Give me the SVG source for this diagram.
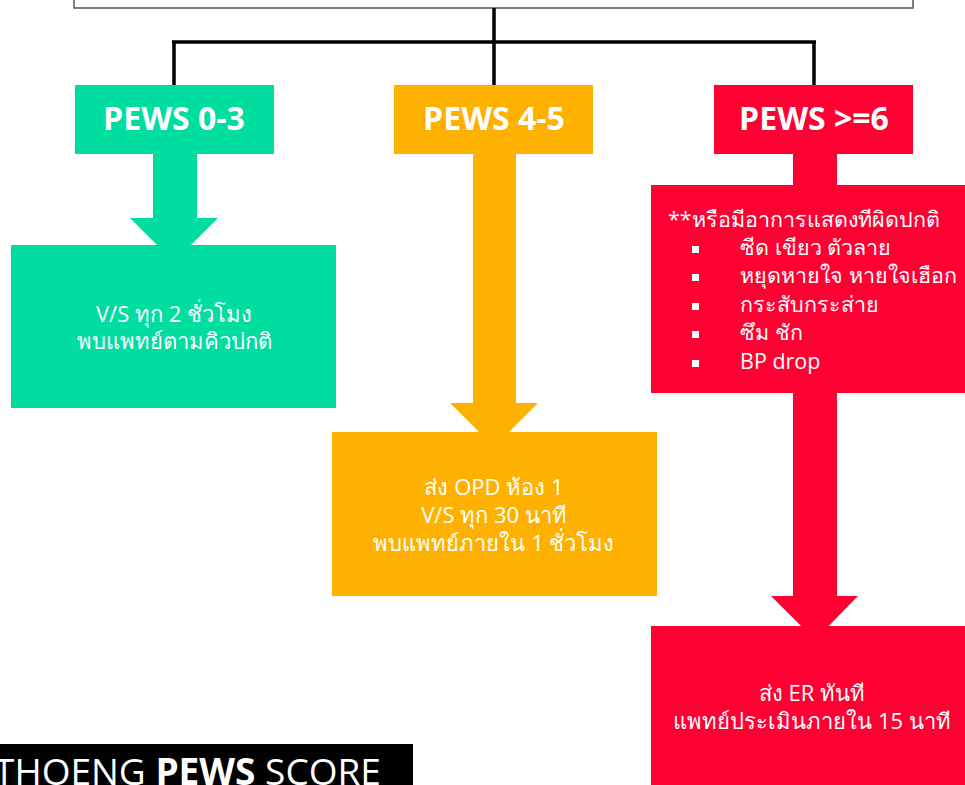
<svg xmlns="http://www.w3.org/2000/svg" width="965" height="785" viewBox="0 0 965 785">
<style>
  .t { font-family: "Open Sans", "Noto Sans", "DejaVu Sans", sans-serif; fill: #ffffff; text-anchor: middle; }
  .hdr { font-size: 32px; font-weight: bold; }
  .body { font-size: 22px; }
  .lst { font-size: 21.5px; text-anchor: start; }
  .conn { stroke: #000000; stroke-width: 3.5; fill: none; }
  .g { fill: #00DDA1; }
  .o { fill: #FFB100; }
  .r { fill: #FF0033; }
</style>
<rect x="0" y="0" width="965" height="785" fill="#ffffff"/>

<g id="top-box">
  <rect x="74" y="-40" width="839" height="48" fill="#ffffff" stroke="#555555" stroke-width="1.5"/>
</g>

<g id="connectors">
  <line class="conn" x1="494" y1="8" x2="494" y2="86"/>
  <line class="conn" x1="172" y1="42" x2="816" y2="42" stroke-width="4"/>
  <line class="conn" x1="174" y1="41" x2="174" y2="86"/>
  <line class="conn" x1="814" y1="41" x2="814" y2="86"/>
  <polygon class="g" points="153,153 197,153 197,218 218,218 174,262 130,218 153,218"/>
  <polygon class="o" points="473,153 516,153 516,403 538,403 494,447 450,403 473,403"/>
  <rect class="r" x="793" y="153" width="44" height="34"/>
  <polygon class="r" points="793,392 837,392 837,596 858,596 815,640 771,596 793,596"/>
</g>

<g id="pews-0-3">
  <rect class="g" x="75" y="85" width="199" height="69"/>
  <text class="t hdr" x="174" y="130">PEWS 0-3</text>
</g>
<g id="pews-4-5">
  <rect class="o" x="394" y="85" width="199" height="69"/>
  <text class="t hdr" x="494" y="130">PEWS 4-5</text>
</g>
<g id="pews-6">
  <rect class="r" x="714" y="85" width="199" height="69"/>
  <text class="t hdr" x="814" y="130">PEWS &gt;=6</text>
</g>

<g id="green-action">
  <rect class="g" x="11" y="245" width="325" height="163"/>
  <text class="t body" x="174" y="322">V/S ทุก 2 ชั่วโมง</text>
  <text class="t body" x="174" y="349">พบแพทย์ตามคิวปกติ</text>
</g>

<g id="orange-action">
  <rect class="o" x="332" y="432" width="325" height="164"/>
  <text class="t body" x="494" y="495">ส่ง OPD ห้อง 1</text>
  <text class="t body" x="494" y="523">V/S ทุก 30 นาที</text>
  <text class="t body" x="494" y="551">พบแพทย์ภายใน 1 ชั่วโมง</text>
</g>

<g id="red-signs">
  <rect class="r" x="651" y="185" width="330" height="208"/>
  <text class="t lst" x="668" y="227">**หรือมีอาการแสดงทีผิดปกติ</text>
  <rect x="692" y="246" width="7" height="7" fill="#ffffff"/>
  <rect x="692" y="274" width="7" height="7" fill="#ffffff"/>
  <rect x="692" y="303" width="7" height="7" fill="#ffffff"/>
  <rect x="692" y="331" width="7" height="7" fill="#ffffff"/>
  <rect x="692" y="360" width="7" height="7" fill="#ffffff"/>
  <text class="t lst" x="740" y="255">ซีด เขียว ตัวลาย</text>
  <text class="t lst" x="740" y="283">หยุดหายใจ หายใจเฮือก</text>
  <text class="t lst" x="740" y="312">กระสับกระส่าย</text>
  <text class="t lst" x="740" y="340">ซึม ชัก</text>
  <text class="t lst" x="740" y="369">BP drop</text>
</g>

<g id="red-action">
  <rect class="r" x="651" y="626" width="330" height="170"/>
  <text class="t body" x="812" y="701">ส่ง ER ทันที</text>
  <text class="t body" x="812" y="729">แพทย์ประเมินภายใน 15 นาที</text>
</g>

<g id="title-bar">
  <rect x="-5" y="744" width="418" height="50" fill="#000000"/>
  <text x="-6" y="785" font-family="'Open Sans', 'Noto Sans', sans-serif" font-size="37" fill="#ffffff">THOENG <tspan font-weight="bold">PEWS</tspan> SCORE</text>
</g>
</svg>
